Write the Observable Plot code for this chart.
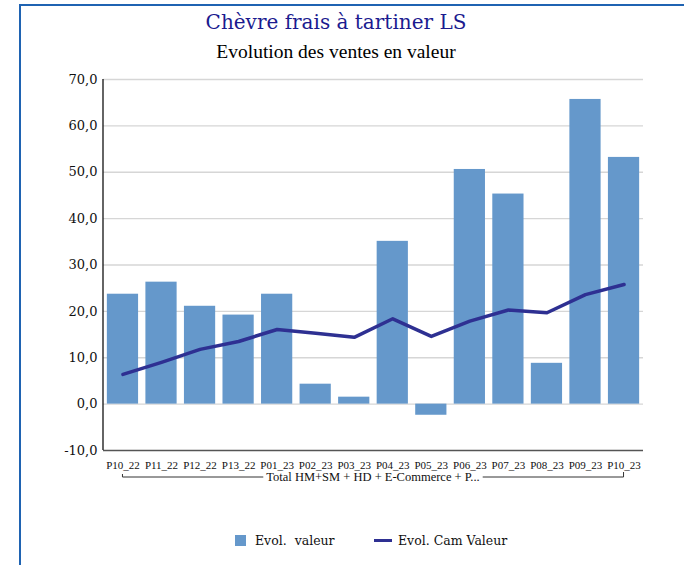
<!DOCTYPE html>
<html>
<head>
<meta charset="utf-8">
<script src="https://cdn.jsdelivr.net/npm/d3@7"></script>
<script src="https://cdn.jsdelivr.net/npm/@observablehq/plot@0.6"></script>
<style>
  html, body { margin: 0; padding: 0; background: #fff; }
  #wrap { position: relative; width: 684px; height: 565px; overflow: hidden; }
  #border { position: absolute; left: 19px; top: 4px; right: -10px; bottom: -10px;
            border-left: 2.5px solid #1f63b2; border-top: 2.5px solid #1f63b2; }
  #title { position: absolute; left: 0; width: 672px; top: 10px; text-align: center;
           font-family: "DejaVu Serif"; font-size: 20px; color: #1b1b8f; }
  #subtitle { position: absolute; left: 0; width: 672px; top: 41px; text-align: center;
              font-family: "Liberation Serif"; font-size: 19.5px; color: #000; }
  #chart { position: absolute; left: 0; top: 0; }
  #chart svg g[aria-label="y-axis tick label"] text { font-family: "DejaVu Serif"; }
  .leg { position: absolute; top: 533px; font-family: "DejaVu Serif"; font-size: 12.5px; color: #111;
         display: flex; align-items: center; white-space: pre; }
</style>
</head>
<body>
<div id="wrap">
  <div id="border"></div>
  <div id="chart"></div>
  <div id="title">Chèvre frais à tartiner LS</div>
  <div id="subtitle">Evolution des ventes en valeur</div>
  <div class="leg" style="left:235px"><span style="display:inline-block;width:11px;height:11px;background:#6598cb;margin-right:9px"></span>Evol.  valeur</div>
  <div class="leg" style="left:374px"><span style="display:inline-block;width:18px;height:3.5px;background:#2e3092;margin-right:6px"></span>Evol. Cam Valeur</div>
</div>
<script>
const categories = ["P10_22","P11_22","P12_22","P13_22","P01_23","P02_23","P03_23","P04_23","P05_23","P06_23","P07_23","P08_23","P09_23","P10_23"];
const evolValeur = [23.7, 26.3, 21.1, 19.2, 23.7, 4.3, 1.5, 35.1, -2.4, 50.6, 45.3, 8.8, 65.7, 53.2];
const evolCam = [6.4, 9.0, 11.8, 13.5, 16.1, 15.3, 14.4, 18.4, 14.6, 17.9, 20.3, 19.7, 23.6, 25.8];
const yTicks = [-10, 0, 10, 20, 30, 40, 50, 60, 70];
const gridTicks = [0, 10, 20, 30, 40, 50, 60, 70];
const groupLabel = "Total HM+SM + HD + E-Commerce + P...";

const data = categories.map((c, i) => ({cat: c, val: evolValeur[i], cam: evolCam[i]}));
const fmt = d => d.toFixed(1).replace(".", ",");

const plot = Plot.plot({
  width: 684,
  height: 565,
  marginLeft: 103,
  marginRight: 41,
  marginTop: 79,
  marginBottom: 115,
  style: {fontFamily: "Liberation Serif", background: "transparent", overflow: "visible"},
  x: {type: "band", domain: categories, paddingInner: 0.19, paddingOuter: 0.1, round: false, label: null},
  y: {domain: [-10, 70], label: null},
  marks: [
    Plot.gridY(gridTicks, {stroke: "#d6d6d6", strokeOpacity: 1, strokeWidth: 1.3}),
    Plot.barY(data, {x: "cat", y: "val", fill: "#6598cb"}),
    Plot.line(data, {x: "cat", y: "cam", stroke: "#2e3092", strokeWidth: 3.5}),
    Plot.ruleY([-10], {stroke: "#555", strokeWidth: 1.3}),
    Plot.axisY({ticks: yTicks, tickFormat: fmt, tickSize: 0, tickPadding: 6, fontSize: 13, fill: "#111", label: null}),
    Plot.axisX({tickSize: 0, tickPadding: 11, fontSize: 11, fill: "#111", label: null})
  ]
});
document.getElementById("chart").appendChild(plot);

// left axis line and category group bracket, from the plot's own scales
const xs = plot.scale("x"), ys = plot.scale("y");
const svg = d3.select(plot);
const xLeft = xs.range[0], xRight = xs.range[1];
svg.append("line")
  .attr("x1", xLeft).attr("x2", xLeft)
  .attr("y1", ys.apply(70)).attr("y2", ys.apply(-10))
  .attr("stroke", "#111").attr("stroke-width", 1.3);

const bw = xs.bandwidth;
const bx0 = xs.apply(categories[0]) + bw / 2;
const bx1 = xs.apply(categories[categories.length - 1]) + bw / 2;
const by = ys.apply(-10) + 27;
const g = svg.append("g");
const tc = (xLeft + xRight) / 2;
const txt = g.append("text")
  .attr("x", tc).attr("y", by)
  .attr("text-anchor", "middle").attr("dy", "0.32em")
  .attr("font-family", "Liberation Serif").attr("font-size", 12.5).attr("fill", "#111")
  .text(groupLabel);
const tw = txt.node().getComputedTextLength();
const br = "#333";
g.append("path")
  .attr("d", `M${bx0},${by - 3}V${by}H${tc - tw / 2 - 3}`)
  .attr("fill", "none").attr("stroke", br).attr("stroke-width", 1);
g.append("path")
  .attr("d", `M${tc + tw / 2 + 3},${by}H${bx1}V${by - 5}`)
  .attr("fill", "none").attr("stroke", br).attr("stroke-width", 1);
</script>
</body>
</html>
